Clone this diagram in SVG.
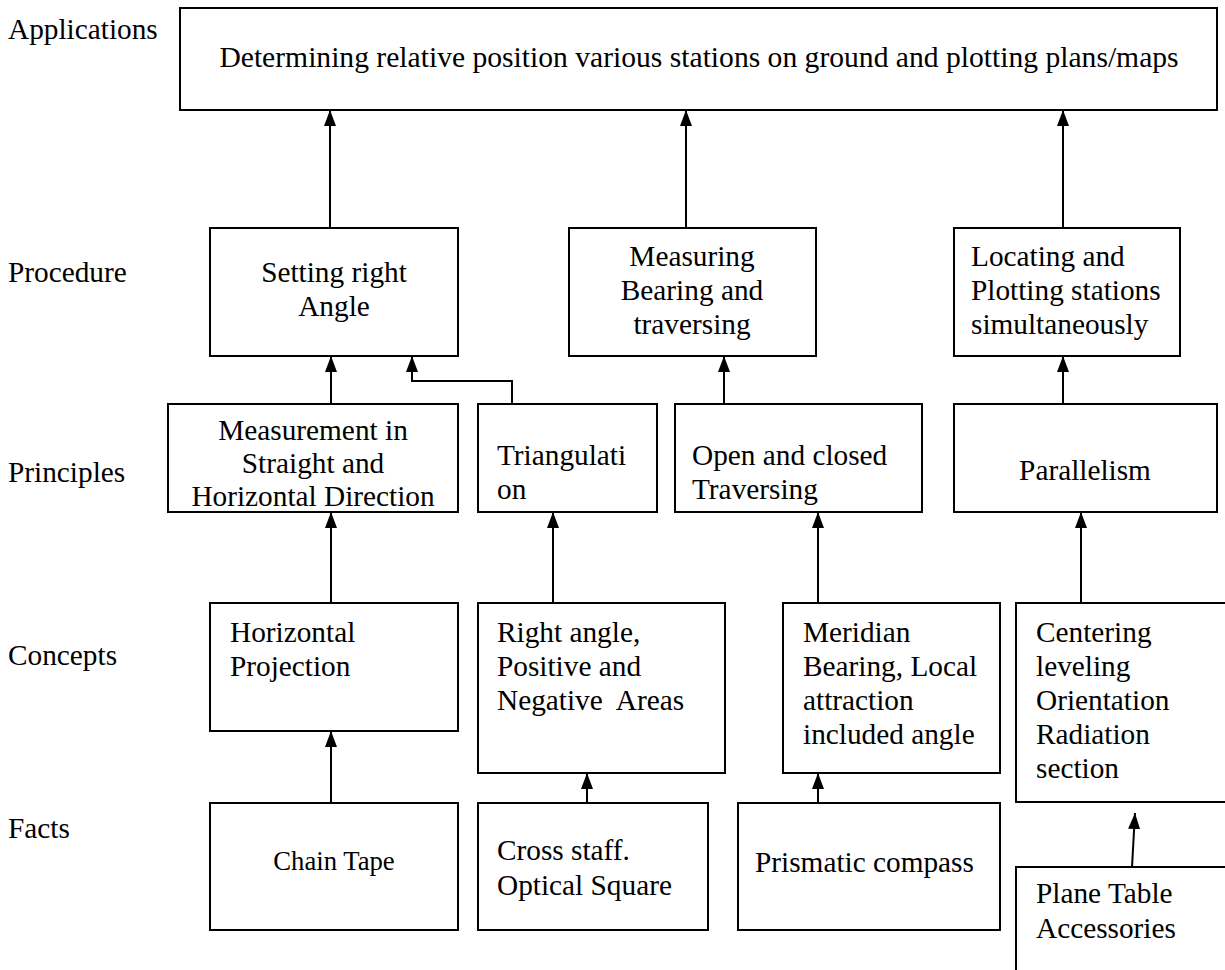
<svg xmlns="http://www.w3.org/2000/svg" width="1225" height="970" viewBox="0 0 1225 970">
<defs>
<marker id="ah" markerUnits="userSpaceOnUse" markerWidth="16" markerHeight="12" refX="16" refY="6" orient="auto" viewBox="0 0 16 12">
<path d="M0,0 L16,6 L0,12 z" fill="#000"/>
</marker>
<style>
.box{fill:#fff;stroke:#000;stroke-width:2}
text{font-family:'Liberation Serif','DejaVu Serif',serif;font-size:29.3px;fill:#000}
.m{text-anchor:middle}
.c{fill:none;stroke:#000;stroke-width:2;marker-end:url(#ah)}
</style>
</defs>
<rect width="1225" height="970" fill="#fff"/>
<g id="labels">
<text x="8" y="39">Applications</text>
<text x="8" y="282">Procedure</text>
<text x="8" y="482">Principles</text>
<text x="8" y="665">Concepts</text>
<text x="8" y="838">Facts</text>
</g>
<g id="applications">
<rect class="box" x="180" y="8" width="1037" height="102"/>
<text class="m" x="699" y="67" style="font-size:29.6px">Determining relative position various stations on ground and plotting plans/maps</text>
</g>
<g id="setting">
<rect class="box" x="210" y="228" width="248" height="128"/>
<text class="m" x="334" y="282">Setting right</text>
<text class="m" x="334" y="316">Angle</text>
</g>
<g id="measuring">
<rect class="box" x="569" y="228" width="247" height="128"/>
<text class="m" x="692" y="266">Measuring</text>
<text class="m" x="692" y="300">Bearing and</text>
<text class="m" x="692" y="334">traversing</text>
</g>
<g id="locating">
<rect class="box" x="954" y="228" width="226" height="128"/>
<text x="971" y="266">Locating and</text>
<text x="971" y="300">Plotting stations</text>
<text x="971" y="334">simultaneously</text>
</g>
<g id="measurement">
<rect class="box" x="168" y="404" width="290" height="108"/>
<text class="m" x="313" y="440">Measurement in</text>
<text class="m" x="313" y="473">Straight and</text>
<text class="m" x="313" y="506">Horizontal Direction</text>
</g>
<g id="triangulation">
<rect class="box" x="478" y="404" width="179" height="108"/>
<text x="497" y="465">Triangulati</text>
<text x="497" y="499">on</text>
</g>
<g id="traversing">
<rect class="box" x="675" y="404" width="247" height="108"/>
<text x="692" y="465">Open and closed</text>
<text x="692" y="499">Traversing</text>
</g>
<g id="parallelism">
<rect class="box" x="954" y="404" width="263" height="108"/>
<text class="m" x="1085" y="480">Parallelism</text>
</g>
<g id="horizontal">
<rect class="box" x="210" y="603" width="248" height="128"/>
<text x="230" y="642">Horizontal</text>
<text x="230" y="676">Projection</text>
</g>
<g id="rightangle">
<rect class="box" x="478" y="603" width="247" height="170"/>
<text x="497" y="642">Right angle,</text>
<text x="497" y="676">Positive and</text>
<text x="497" y="710" xml:space="preserve">Negative  Areas</text>
</g>
<g id="meridian">
<rect class="box" x="783" y="603" width="217" height="170"/>
<text x="803" y="642">Meridian</text>
<text x="803" y="676">Bearing, Local</text>
<text x="803" y="710">attraction</text>
<text x="803" y="744">included angle</text>
</g>
<g id="centering">
<rect class="box" x="1016" y="603" width="220" height="199"/>
<text x="1036" y="642">Centering</text>
<text x="1036" y="676">leveling</text>
<text x="1036" y="710">Orientation</text>
<text x="1036" y="744">Radiation</text>
<text x="1036" y="778">section</text>
</g>
<g id="chaintape">
<rect class="box" x="210" y="803" width="248" height="127"/>
<text class="m" x="334" y="870" style="font-size:26.7px">Chain Tape</text>
</g>
<g id="crossstaff">
<rect class="box" x="478" y="803" width="230" height="127"/>
<text x="497" y="860">Cross staff.</text>
<text x="497" y="895">Optical Square</text>
</g>
<g id="prismatic">
<rect class="box" x="738" y="803" width="262" height="127"/>
<text x="755" y="872">Prismatic compass</text>
</g>
<g id="planetable">
<rect class="box" x="1016" y="867" width="220" height="120"/>
<text x="1036" y="903">Plane Table</text>
<text x="1036" y="938">Accessories</text>
</g>
<g id="connectors">
<path class="c" d="M330,228 V110"/>
<path class="c" d="M686,228 V110"/>
<path class="c" d="M1063,228 V110"/>
<path class="c" d="M331,404 V356"/>
<path class="c" d="M610,404 H512 V381 H412 V356"/>
<path class="c" d="M724,404 V356"/>
<path class="c" d="M1063,404 V356"/>
<path class="c" d="M331,603 V512"/>
<path class="c" d="M553,603 V512"/>
<path class="c" d="M818,603 V512"/>
<path class="c" d="M1081,603 V512"/>
<path class="c" d="M331,803 V731"/>
<path class="c" d="M587,803 V773"/>
<path class="c" d="M818,803 V773"/>
<path class="c" d="M1132,867 L1135,813"/>
</g>
</svg>
